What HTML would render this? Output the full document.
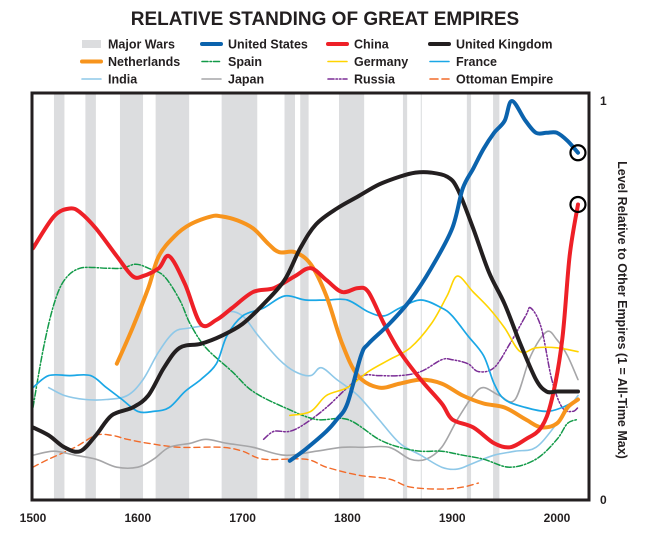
<!DOCTYPE html>
<html><head><meta charset="utf-8">
<style>
body{margin:0;background:#fff;}
svg{display:block;font-family:"Liberation Sans",sans-serif;}
</style></head>
<body>
<svg id="chart" width="649" height="537" viewBox="0 0 649 537">
<text x="325" y="25" text-anchor="middle" font-size="19" font-weight="bold" fill="#231f20">RELATIVE STANDING OF GREAT EMPIRES</text>
<g id="legend"></g>
<g id="wars"></g>
<g id="lines"></g>
<rect x="32" y="93" width="557" height="407" fill="none" stroke="#231f20" stroke-width="3"/>
<g id="xticks"></g>
<text x="600" y="105" font-size="12" font-weight="bold" fill="#231f20">1</text>
<text x="600" y="504" font-size="12" font-weight="bold" fill="#231f20">0</text>
<text transform="translate(618,310) rotate(90)" text-anchor="middle" font-size="12.5" font-weight="bold" fill="#231f20">Level Relative to Other Empires (1 = All-Time Max)</text>
</svg>
<script>
const NS="http://www.w3.org/2000/svg";
const xTicks=[1500,1600,1700,1800,1900,2000];
const wars=[[1520,1530],[1550,1560],[1583,1605],[1617,1649],[1680,1714],[1740,1750],[1755,1763],[1792,1816],[1853,1857],[1870,1871],[1914,1918],[1939,1945]];
const usYears=[1745,1760,1780,1790,1800,1813,1820,1840,1860,1880,1900,1910,1920,1930,1940,1950,1957,1970,1980,1990,2000,2010,2020];
const usVals=[.096,.125,.17,.2,.24,.36,.39,.44,.5,.58,.68,.78,.83,.88,.92,.95,1,.95,.92,.92,.92,.9,.87];
const chinaYears=[1500,1520,1535,1545,1560,1580,1595,1605,1620,1630,1645,1660,1675,1690,1710,1730,1750,1765,1780,1795,1810,1820,1835,1850,1870,1890,1900,1920,1940,1955,1970,1985,1995,2005,2012,2020];
const chinaVals=[.63,.71,.73,.72,.68,.61,.56,.56,.58,.61,.54,.44,.45,.48,.52,.53,.56,.58,.55,.52,.53,.52,.44,.37,.3,.24,.2,.18,.14,.13,.15,.18,.25,.4,.61,.74];
const ukYears=[1500,1515,1530,1545,1560,1575,1595,1610,1625,1640,1660,1680,1700,1720,1740,1755,1770,1790,1810,1830,1850,1865,1880,1895,1905,1920,1935,1950,1965,1980,1990,2000,2020];
const ukVals=[.18,.16,.13,.12,.16,.21,.23,.26,.33,.38,.39,.41,.44,.49,.55,.63,.69,.73,.76,.79,.81,.82,.82,.81,.78,.68,.57,.49,.39,.3,.27,.27,.27];
const nlYears=[1580,1595,1610,1620,1635,1650,1670,1680,1695,1710,1725,1735,1750,1765,1780,1795,1810,1830,1850,1870,1890,1910,1930,1950,1970,1985,2000,2010,2020];
const nlVals=[.34,.43,.53,.61,.66,.69,.71,.71,.7,.68,.64,.62,.62,.59,.51,.39,.31,.28,.29,.3,.29,.26,.24,.23,.2,.18,.19,.23,.25];
const spYears=[1500,1510,1520,1530,1545,1570,1585,1598,1610,1625,1640,1650,1665,1690,1710,1740,1770,1800,1830,1850,1870,1890,1910,1930,1955,1980,2000,2010,2020];
const spVals=[.23,.38,.49,.55,.58,.58,.58,.59,.58,.56,.5,.44,.38,.32,.27,.23,.2,.2,.15,.13,.12,.12,.11,.1,.08,.1,.15,.19,.2];
const deYears=[1745,1765,1780,1800,1820,1840,1860,1880,1895,1905,1920,1935,1950,1965,1980,2000,2020];
const deVals=[.21,.22,.26,.28,.32,.35,.38,.44,.51,.56,.52,.48,.43,.37,.38,.38,.37];
const frYears=[1500,1515,1535,1555,1570,1585,1600,1615,1630,1645,1660,1675,1685,1700,1720,1740,1760,1780,1800,1820,1835,1850,1870,1890,1900,1915,1930,1940,1950,1970,1990,2005,2020];
const frVals=[.28,.31,.31,.31,.28,.25,.22,.22,.23,.27,.3,.34,.41,.46,.48,.51,.5,.5,.5,.47,.46,.48,.5,.48,.46,.41,.36,.29,.25,.23,.22,.23,.25];
const inYears=[1515,1530,1550,1570,1590,1605,1620,1635,1650,1670,1685,1700,1715,1735,1750,1765,1775,1790,1810,1830,1850,1870,1890,1905,1920,1940,1960,1980,2000,2020];
const inVals=[.28,.26,.25,.25,.26,.3,.37,.42,.43,.44,.47,.46,.41,.35,.32,.31,.33,.3,.26,.2,.14,.11,.08,.075,.09,.11,.12,.13,.19,.26];
const jpYears=[1500,1520,1540,1560,1580,1600,1615,1630,1650,1665,1685,1710,1740,1770,1795,1815,1840,1860,1875,1890,1905,1920,1930,1945,1960,1975,1990,2000,2010,2020];
const jpVals=[.11,.12,.11,.1,.08,.08,.1,.13,.14,.15,.14,.13,.11,.12,.13,.13,.13,.1,.1,.13,.2,.26,.28,.26,.25,.36,.42,.4,.36,.3];
const ruYears=[1720,1730,1745,1760,1780,1800,1815,1830,1850,1870,1890,1900,1915,1925,1940,1955,1970,1975,1985,1995,2005,2015,2020];
const ruVals=[.15,.17,.17,.19,.23,.28,.31,.31,.31,.32,.35,.35,.34,.32,.33,.39,.46,.48,.43,.3,.23,.22,.23];
const otYears=[1500,1515,1540,1560,1575,1590,1610,1640,1680,1700,1720,1760,1780,1810,1840,1860,1890,1910,1925];
const otVals=[.08,.1,.13,.16,.16,.15,.14,.13,.13,.12,.1,.1,.08,.06,.05,.03,.025,.03,.04];

const X=y=>33+(y-1500)*1.048;
const Y=v=>499-398*v;
const svg=document.getElementById('chart');
function mk(tag,attrs,parent){const e=document.createElementNS(NS,tag);for(const k in attrs)e.setAttribute(k,attrs[k]);parent.appendChild(e);return e;}

const wg=document.getElementById('wars');
wars.forEach(w=>{
  const r=mk('rect',{x:X(w[0]),y:94,width:X(w[1])-X(w[0]),height:405,fill:'#dcdddf'},wg);
  
  
});
const xg=document.getElementById('xticks');
xTicks.forEach(t=>{
  const e=mk('text',{x:X(t),y:522,'text-anchor':'middle','font-size':12,'font-weight':'bold',fill:'#231f20'},xg);
  e.textContent=t;
  
  
});
function pathD(xs,vs){
  const p=xs.map((x,i)=>[X(x),Y(vs[i])]);
  let d='M'+p[0][0].toFixed(1)+','+p[0][1].toFixed(1);
  for(let i=0;i<p.length-1;i++){
    const p0=p[Math.max(0,i-1)],p1=p[i],p2=p[i+1],p3=p[Math.min(p.length-1,i+2)];
    const c1=[p1[0]+(p2[0]-p0[0])/6,p1[1]+(p2[1]-p0[1])/6];
    const c2=[p2[0]-(p3[0]-p1[0])/6,p2[1]-(p3[1]-p1[1])/6];
    d+=' C'+c1.map(n=>n.toFixed(1))+' '+c2.map(n=>n.toFixed(1))+' '+p2.map(n=>n.toFixed(1));
  }
  return d;
}
const lg=document.getElementById('lines');
const series=[
 ['ottoman',otYears,otVals,'#f26b2a',1.4,'6,4'],
 ['japan',jpYears,jpVals,'#a6a6a8',1.6,''],
 ['india',inYears,inVals,'#8ec8e8',1.6,''],
 ['russia',ruYears,ruVals,'#7b2d96',1.5,'6,2,1.5,2,1.5,2'],
 ['spain',spYears,spVals,'#129a48',1.5,'6,2,1.5,2'],
 ['germany',deYears,deVals,'#ffd400',1.6,''],
 ['france',frYears,frVals,'#1aa7e6',1.7,''],
 ['netherlands',nlYears,nlVals,'#f7941d',4,''],
 ['china',chinaYears,chinaVals,'#ee2027',4,''],
 ['united-kingdom',ukYears,ukVals,'#231f20',4,''],
 ['united-states',usYears,usVals,'#0b63ad',4,'']
];
series.forEach(s=>{
  const a={d:pathD(s[1],s[2]),fill:'none',stroke:s[3],'stroke-width':s[4],'stroke-linecap':'round','stroke-linejoin':'round'};
  if(s[5])a['stroke-dasharray']=s[5];
  const e=mk('path',a,lg);
  
  
});
[[usYears,usVals],[chinaYears,chinaVals]].forEach(([ys,vs],i)=>{
  const n=ys.length-1;
  const c=mk('circle',{cx:X(ys[n]),cy:Y(vs[n]),r:7.5,fill:'none',stroke:'#000','stroke-width':2.2},lg);
  
  
});
const legendItems=[
 ['Major Wars','#dcdddf',8,''],['United States','#0b63ad',4,''],['China','#ee2027',4,''],['United Kingdom','#231f20',4,''],
 ['Netherlands','#f7941d',4,''],['Spain','#129a48',1.6,'6,2,1.5,2'],['Germany','#ffd400',1.6,''],['France','#1aa7e6',1.6,''],
 ['India','#8ec8e8',1.6,''],['Japan','#a6a6a8',1.6,''],['Russia','#7b2d96',1.6,'6,2,1.5,2,1.5,2'],['Ottoman Empire','#f26b2a',1.6,'8,4']
];
const colX=[82,202,328,430];
const lgd=document.getElementById('legend');
legendItems.forEach((it,i)=>{
  const c=i%4,r=Math.floor(i/4);
  const y=44+r*17.5;
  const a={x1:colX[c],x2:colX[c]+19,y1:y,y2:y,stroke:it[1],'stroke-width':it[2],'stroke-linecap':it[2]>=8?'butt':'round'};
  if(it[3])a['stroke-dasharray']=it[3];
  const l=mk('line',a,lgd);
  
  
  const t=mk('text',{x:colX[c]+26,y:y+4.5,'font-size':12.5,'font-weight':'bold',fill:'#231f20'},lgd);
  t.textContent=it[0];
  
  
});
</script>
</body></html>
